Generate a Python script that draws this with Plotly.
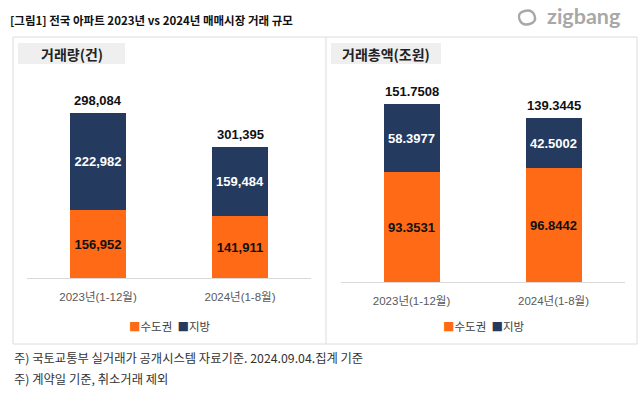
import plotly.graph_objects as go

W, H = 643, 393

# ---- data ----
categories = ["2023년(1-12월)", "2024년(1-8월)"]
series_names = ["수도권", "지방"]
volume_capital = [156952, 141911]
volume_local = [222982, 159484]
volume_total_labels = ["298,084", "301,395"]
amount_capital = [93.3531, 96.8442]
amount_local = [58.3977, 42.5002]
amount_total_labels = ["151.7508", "139.3445"]

ORANGE = "#FF6A17"
NAVY = "#243B5F"
KR = "Noto Sans CJK KR"
NUM = "Liberation Sans, Noto Sans CJK KR"


def px(x):
    return x / W


def py(y):
    return 1 - y / H


fig = go.Figure()

for xa, ya, cap, loc in [("x", "y", volume_capital, volume_local),
                         ("x2", "y2", amount_capital, amount_local)]:
    fmt = "%{y:,}" if xa == "x" else "%{y:.4f}"
    fig.add_trace(go.Bar(
        x=categories, y=cap, name=series_names[0], xaxis=xa, yaxis=ya,
        marker=dict(color=ORANGE, line=dict(width=0)), width=0.395,
        texttemplate="<b>" + fmt + "</b>", textposition="inside",
        insidetextanchor="middle",
        textfont=dict(family=NUM, size=13, color="#111111"),
        showlegend=False, hoverinfo="skip"))
    fig.add_trace(go.Bar(
        x=categories, y=loc, name=series_names[1], xaxis=xa, yaxis=ya,
        marker=dict(color=NAVY, line=dict(width=0)), width=0.395,
        texttemplate="<b>" + fmt + "</b>", textposition="inside",
        insidetextanchor="middle",
        textfont=dict(family=NUM, size=13, color="#FFFFFF"),
        showlegend=False, hoverinfo="skip"))

annotations = []
# total labels above stacked bars
for xr, yr, cap, loc, labels in [("x", "y", volume_capital, volume_local, volume_total_labels),
                                 ("x2", "y2", amount_capital, amount_local, amount_total_labels)]:
    for c, a, b, t in zip(categories, cap, loc, labels):
        annotations.append(dict(
            x=c, y=a + b, xref=xr, yref=yr, text="<b>" + t + "</b>",
            showarrow=False, yanchor="bottom", yshift=3,
            font=dict(family=NUM, size=13, color="#111111")))

# title
annotations.append(dict(
    x=px(8), y=py(20), xref="paper", yref="paper", xanchor="left", yanchor="middle",
    text="<b>[그림1] 전국 아파트 2023년 vs 2024년 매매시장 거래 규모</b>",
    showarrow=False, font=dict(family=KR, size=11.5, color="#111111")))

# zigbang logo text
annotations.append(dict(
    x=px(545), y=py(16), xref="paper", yref="paper", xanchor="left", yanchor="middle",
    text="<b>zigbang</b>", showarrow=False,
    font=dict(family="Lato, Noto Sans", size=21.5, color="#A8A8A8")))

# panel headers
for cx, t in [(72, "거래량(건)"), (386, "거래총액(조원)")]:
    annotations.append(dict(
        x=px(cx), y=py(54), xref="paper", yref="paper", xanchor="center", yanchor="middle",
        text="<b>" + t + "</b>", showarrow=False,
        font=dict(family=KR, size=14, color="#222222")))

# legends
leg = ("<span style='color:%s'>■</span><span style='color:#404040'>%s</span>  "
       "<span style='color:%s'>■</span><span style='color:#404040'>%s</span>"
       % (ORANGE, series_names[0], NAVY, series_names[1]))
for cx in [170, 483]:
    annotations.append(dict(
        x=px(cx), y=py(326), xref="paper", yref="paper", xanchor="center", yanchor="middle",
        text=leg, showarrow=False, font=dict(family=KR, size=11.5, color="#404040")))

# footnotes
for yy, t in [(358, "주) 국토교통부 실거래가 공개시스템 자료기준. 2024.09.04.집계 기준"),
              (379, "주) 계약일 기준, 취소거래 제외")]:
    annotations.append(dict(
        x=px(12), y=py(yy), xref="paper", yref="paper", xanchor="left", yanchor="middle",
        text=t, showarrow=False, font=dict(family=KR, size=12.3, color="#333333")))


def icon_path():
    # rounded, tilted outline (logo glyph)
    pts = [(517, 13), (532, 9), (537, 22), (522, 26)]
    seg = []
    n = len(pts)
    mids = [((pts[i][0] + pts[(i + 1) % n][0]) / 2, (pts[i][1] + pts[(i + 1) % n][1]) / 2)
            for i in range(n)]
    seg.append("M %f %f" % (px(mids[-1][0]), py(mids[-1][1])))
    for i in range(n):
        cx, cy = pts[i]
        mx, my = mids[i]
        seg.append("Q %f %f %f %f" % (px(cx), py(cy), px(mx), py(my)))
    return " ".join(seg) + " Z"


shapes = [
    # outer panel box
    dict(type="rect", xref="paper", yref="paper", x0=px(13), x1=px(637), y0=py(344), y1=py(37),
         line=dict(color="#DCDCDC", width=1), fillcolor="rgba(0,0,0,0)", layer="below"),
    dict(type="line", xref="paper", yref="paper", x0=px(326), x1=px(326), y0=py(344), y1=py(37),
         line=dict(color="#DCDCDC", width=1)),
    # header boxes
    dict(type="rect", xref="paper", yref="paper", x0=px(18), x1=px(125), y0=py(64), y1=py(43),
         line=dict(width=0), fillcolor="#EFEFEF", layer="below"),
    dict(type="rect", xref="paper", yref="paper", x0=px(331), x1=px(441), y0=py(64), y1=py(43),
         line=dict(width=0), fillcolor="#EFEFEF", layer="below"),
    # zigbang icon
    dict(type="path", xref="paper", yref="paper", path=icon_path(),
         line=dict(color="#A8A8A8", width=2.4), fillcolor="rgba(0,0,0,0)"),
]

axis_common = dict(showgrid=False, zeroline=False, showline=True, linecolor="#D9D9D9",
                   linewidth=1, ticks="outside", ticklen=8, tickcolor="rgba(0,0,0,0)",
                   tickfont=dict(family=NUM, size=11.5, color="#595959"), fixedrange=True)
yaxis_common = dict(showgrid=False, zeroline=False, showline=False, showticklabels=False,
                    fixedrange=True)

fig.update_layout(
    width=W, height=H, margin=dict(l=0, r=0, t=0, b=0),
    paper_bgcolor="white", plot_bgcolor="rgba(0,0,0,0)",
    barmode="stack", bargap=0,
    uniformtext=dict(mode=False),
    xaxis=dict(domain=[px(27), px(311)], anchor="y", **axis_common),
    yaxis=dict(domain=[py(278), py(60)], range=[0, 218 * 2300], anchor="x", **yaxis_common),
    xaxis2=dict(domain=[px(340.5), px(624.5)], anchor="y2", **axis_common),
    yaxis2=dict(domain=[py(282), py(60)], range=[0, 222 * 0.852], anchor="x2", **yaxis_common),
    annotations=annotations, shapes=shapes, showlegend=False,
)

fig.write_html(
    "out.html",
    config={"displayModeBar": False},
    post_script="document.body.style.margin='0';document.body.style.padding='0';"
                "document.documentElement.style.overflow='hidden';",
)
